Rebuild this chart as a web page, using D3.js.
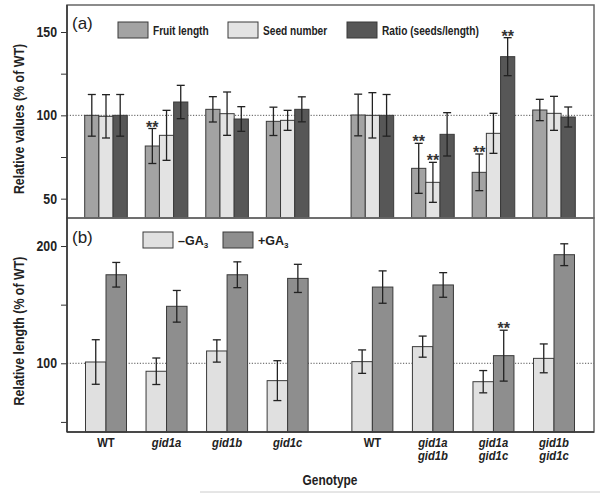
<!DOCTYPE html>
<html><head><meta charset="utf-8">
<script src="https://cdn.jsdelivr.net/npm/d3@7/dist/d3.min.js"></script>
<style>body{margin:0;background:#fff}svg{display:block;font-family:"Liberation Sans",Arial,sans-serif}</style>
</head><body>
<script>
// ---- data ----
const genotypes = [["WT"],["gid1a"],["gid1b"],["gid1c"],["WT"],["gid1a","gid1b"],["gid1a","gid1c"],["gid1b","gid1c"]];
const italicGeno = [false,true,true,true,false,true,true,true];
const seriesA = ["Fruit length","Seed number","Ratio (seeds/length)"];
const fruitLen   = [100, 81.6, 103.6, 96.4, 100.2, 68.2, 65.8, 103.2];
const fruitErr   = [12.5, 10.5, 7.6, 8.5, 12.5, 15, 11, 6.4];
const seedNum    = [99.4, 88, 101, 97, 100, 59.8, 89.2, 101.2];
const seedErr    = [13, 15, 13, 6, 13.6, 12, 12, 10.2];
const ratio      = [100, 108, 97.8, 103.6, 100, 88.6, 135.2, 99];
const ratioErr   = [12.5, 10, 7.4, 7.5, 12.5, 13, 11.4, 6];
const sigA = [[], [0], [], [], [], [0,1], [0,2], []]; // series index with **
const seriesB = ["–GA3","+GA3"];
const minusGA = [101.1, 93.2, 110.5, 85.2, 101.4, 114.2, 84.3, 104.2];
const minusErr= [19, 11.3, 9.5, 17, 10, 9, 9.5, 12.3];
const plusGA  = [175.5, 148.6, 175.5, 172.4, 165, 166.8, 106.5, 192.6];
const plusErr = [10.5, 13.5, 11, 12, 13.8, 10.5, 21.7, 9.3];
const sigB = [[], [], [], [], [], [], [1], []];
const ticksA = [50, 100, 150], minorA = [75, 125];
const ticksB = [100, 200], minorB = [50, 150];

const W = 600, H = 495;
const svg = d3.select("body").append("svg").attr("width", W).attr("height", H);
const L = 67, R = 594, topA = 5, midY = 218, botB = 432;

// condense text horizontally (reference uses a condensed face)
function condense(sel, f) {
  sel.each(function () {
    const w = this.getComputedTextLength();
    d3.select(this).attr("textLength", w * f).attr("lengthAdjust", "spacingAndGlyphs");
  });
  return sel;
}

const slot = i => i + (i >= 4 ? 0.4 : 0);
const x = d3.scaleLinear().domain([0, 7.4]).range([106, 554]);

const yA = d3.scaleLinear().domain([38.4, 166.2]).range([midY, topA]);
const yB = d3.scaleLinear().domain([41.4, 223.9]).range([botB, midY]);

const colA = ["#a3a3a3", "#e3e3e3", "#575757"];
const colB = ["#e0e0e0", "#8e8e8e"];
const stroke = "#3a3a3a";

function panel(y, top, bottom, ticks, minor, seriesVals, seriesErrs, cols, bw, sig, title, titleY) {
  svg.append("line").attr("x1", L).attr("x2", R).attr("y1", y(100)).attr("y2", y(100))
    .attr("stroke", "#555").attr("stroke-width", 1).attr("stroke-dasharray", "1.2,1.6");
  const n = seriesVals.length;
  seriesVals.forEach((vals, s) => {
    vals.forEach((v, i) => {
      const cx = x(slot(i)) + (s - (n - 1) / 2) * bw;
      svg.append("rect").attr("x", cx - bw / 2).attr("width", bw)
        .attr("y", y(v)).attr("height", bottom - y(v))
        .attr("fill", cols[s]).attr("stroke", stroke).attr("stroke-width", 1);
      const e = seriesErrs[s][i];
      const g = svg.append("g").attr("stroke", "#222").attr("stroke-width", 1.3);
      g.append("line").attr("x1", cx).attr("x2", cx).attr("y1", y(v + e)).attr("y2", y(v - e));
      g.append("line").attr("x1", cx - 4).attr("x2", cx + 4).attr("y1", y(v + e)).attr("y2", y(v + e));
      g.append("line").attr("x1", cx - 4).attr("x2", cx + 4).attr("y1", y(v - e)).attr("y2", y(v - e));
      if (sig[i].includes(s)) {
        svg.append("text").attr("x", cx).attr("y", y(v + e) + 4).attr("text-anchor", "middle")
          .attr("font-size", 16).attr("font-weight", "bold").attr("fill", "#333").text("**");
      }
    });
  });
  const ax = svg.append("g").attr("transform", `translate(${L},0)`)
    .call(d3.axisLeft(y).tickValues(ticks).tickSize(6).tickPadding(4).tickFormat(d3.format("d")));
  ax.select(".domain").remove();
  ax.selectAll("text").attr("font-size", 14.5).attr("font-weight", "bold").attr("fill", "#222")
    .attr("font-family", "Liberation Sans, Arial, sans-serif");
  condense(ax.selectAll("text"), 0.85);
  ax.selectAll("line").attr("stroke", "#333");
  svg.append("g").attr("transform", `translate(${L},0)`)
    .call(d3.axisLeft(y).tickValues(minor).tickSize(6).tickFormat(""))
    .call(g => { g.select(".domain").remove(); g.selectAll("line").attr("stroke", "#333"); });
  svg.append("rect").attr("x", L).attr("y", top).attr("width", R - L).attr("height", bottom - top)
    .attr("fill", "none").attr("stroke", "#666").attr("stroke-width", 1.5);
  svg.append("text").attr("transform", `translate(24,${titleY}) rotate(-90)`).attr("text-anchor", "middle")
    .attr("font-size", 15.5).attr("font-weight", "bold").attr("fill", "#222").text(title)
    .call(t => condense(t, 0.8));
}

panel(yA, topA, midY, ticksA, minorA, [fruitLen, seedNum, ratio], [fruitErr, seedErr, ratioErr], colA, 14.2, sigA,
  "Relative values (% of WT)", 119);
panel(yB, midY, botB, ticksB, minorB, [minusGA, plusGA], [minusErr, plusErr], colB, 20.5, sigB,
  "Relative length (% of WT)", 331);

svg.append("line").attr("x1", L).attr("x2", L).attr("y1", topA).attr("y2", botB).attr("stroke", "#333").attr("stroke-width", 1.5);
svg.append("line").attr("x1", L).attr("x2", R).attr("y1", botB).attr("y2", botB).attr("stroke", "#333").attr("stroke-width", 1.5);

svg.append("text").attr("x", 72).attr("y", 29).attr("font-size", 17).attr("fill", "#222").text("(a)");
svg.append("text").attr("x", 72).attr("y", 243).attr("font-size", 17).attr("fill", "#222").text("(b)");

const legA = [118, 228, 347];
seriesA.forEach((s, i) => {
  svg.append("rect").attr("x", legA[i]).attr("y", 22).attr("width", 30).attr("height", 16)
    .attr("fill", colA[i]).attr("stroke", stroke);
  svg.append("text").attr("transform", `translate(${legA[i] + 35},34.5) scale(0.78,1)`)
    .attr("font-size", 13).attr("font-weight", "bold").attr("fill", "#222").text(s);
});
const legB = [143, 223];
seriesB.forEach((s, i) => {
  svg.append("rect").attr("x", legB[i]).attr("y", 232).attr("width", 30).attr("height", 16)
    .attr("fill", colB[i]).attr("stroke", stroke);
  const t = svg.append("text").attr("x", legB[i] + 35).attr("y", 245)
    .attr("font-size", 12.5).attr("font-weight", "bold").attr("fill", "#222");
  t.append("tspan").text(s.slice(0, 3));
  t.append("tspan").attr("font-size", 8).attr("dy", 3).text(s.slice(3));
});

genotypes.forEach((lines, i) => {
  lines.forEach((l, k) => {
    svg.append("text").attr("x", x(slot(i))).attr("y", 447 + k * 13).attr("text-anchor", "middle")
      .attr("font-size", 12.5).attr("font-weight", "bold").attr("fill", "#222")
      .attr("font-style", italicGeno[i] ? "italic" : "normal").text(l)
      .call(t => condense(t, 0.9));
  });
});
svg.append("text").attr("x", 330).attr("y", 485).attr("text-anchor", "middle")
  .attr("font-size", 14).attr("font-weight", "bold").attr("fill", "#222").text("Genotype")
  .call(t => condense(t, 0.85));
svg.append("line").attr("x1", 200).attr("x2", 600).attr("y1", 492).attr("y2", 492).attr("stroke", "#ccc").attr("stroke-width", 1);
</script>
</body></html>
